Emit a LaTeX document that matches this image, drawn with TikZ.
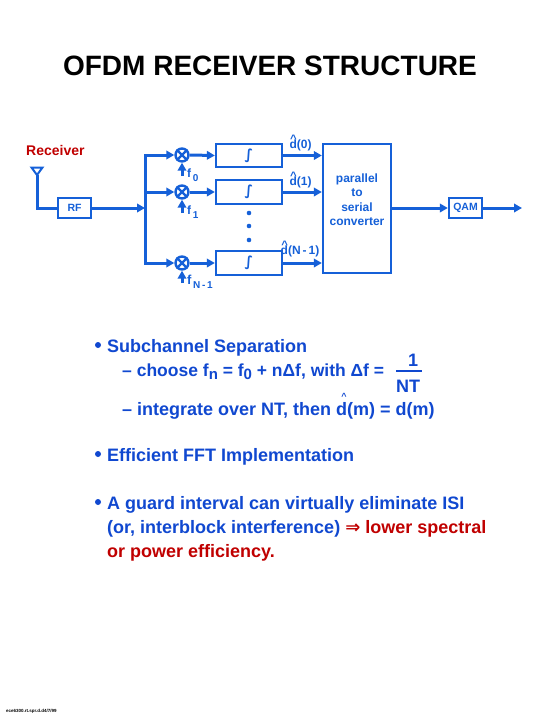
\documentclass[tikz,border=0pt]{standalone}
\usepackage{fontspec}
\setmainfont{Liberation Sans}
\newfontfamily\djv{DejaVu Sans}
\usetikzlibrary{arrows.meta,calc}
\definecolor{diag}{HTML}{1560D8}
\definecolor{body}{HTML}{1048D0}
\definecolor{redt}{HTML}{C00000}
\newcommand{\dhat}{\rlap{\raisebox{0.46em}{\hspace{0.06em}\scalebox{0.95}[0.9]{\textasciicircum}}}d}
\newcommand{\sz}[1]{\fontsize{#1}{#1}\selectfont}
\tikzset{
  x=1pt,y=-1pt,
  wire/.style={draw=diag,line width=3pt},
  flow/.style={wire,-{Triangle[length=8pt,width=8.5pt]}},
  blk/.style={draw=diag,line width=2.3pt,fill=white,inner sep=0pt,text=diag,align=center},
  mix/.style={draw=diag,circle,line width=2.4pt,fill=white,minimum size=13pt,inner sep=0pt},
  dlab/.style={text=diag,font=\sz{12}\bfseries,anchor=base,inner sep=0pt},
  flab/.style={text=diag,font=\sz{12}\bfseries,anchor=base west,inner sep=0pt},
  bodyt/.style={text=body,font=\sz{18}\bfseries,anchor=base west,inner sep=0pt},
  redtxt/.style={text=redt,font=\sz{18}\bfseries,anchor=base west,inner sep=0pt},
}
\newcommand{\mixcross}[1]{\draw[diag,line width=2.2pt] (#1.north west)--(#1.south east) (#1.north east)--(#1.south west);}
\begin{document}
\begin{tikzpicture}
\useasboundingbox (0,0) rectangle (540,720);
\node[anchor=base,inner sep=0pt,font=\sz{28}\bfseries] (title) at (270,75) {OFDM RECEIVER STRUCTURE};
\node[anchor=base west,inner sep=0pt,text=redt,font=\sz{14}\bfseries] (recv) at (26,155.5) {Receiver};
% blocks
\node[blk,minimum width=33pt,minimum height=20pt,font=\sz{10.5}\bfseries] (rf) at (74.5,208) {RF};
\node[blk,minimum width=33pt,minimum height=20pt,font=\sz{10.5}\bfseries] (qam) at (465.5,208) {QAM};
\node[blk,minimum width=66pt,minimum height=23.5pt,font=\djv\sz{14}\bfseries] (i0) at (249,155.5) {∫};
\node[blk,minimum width=66pt,minimum height=24.5pt,font=\djv\sz{14}\bfseries] (i1) at (249,192) {∫};
\node[blk,minimum width=66pt,minimum height=24pt,font=\djv\sz{14}\bfseries] (i2) at (249,263) {∫};
\node[blk,minimum width=68pt,minimum height=129pt] (ps) at (357,208.5) {};
\node[text=diag,align=center,inner sep=0pt,font=\sz{12}\bfseries] (pstxt) at (357,199.5) {parallel\\[2.6pt]to\\[2.6pt]serial\\[2pt]converter};
% mixers
\node[mix] (m0) at (182,155) {};
\node[mix] (m1) at (182,192) {};
\node[mix] (m2) at (182,263) {};
\foreach \m in {m0,m1,m2}{\mixcross{\m}}
% antenna
\coordinate (ant) at (37,175);
\coordinate (antcorner) at (37,208);
\draw[diag,line width=2pt,line join=miter] (31.5,167.5)--(42.5,167.5)--(37,175)--cycle;
\draw[wire] (ant)--(antcorner)--(rf.west);
% splitter
\coordinate (j) at (145,208);
\coordinate (j0) at (145,155);
\coordinate (j1) at (145,192);
\coordinate (j2) at (145,263);
\draw[flow] (rf.east)--(j);
\draw[wire,line cap=rect] (j0)--(j2);
\draw[flow] (j0)--(m0.west);
\draw[flow] (j1)--(m1.west);
\draw[flow] (j2)--(m2.west);
\draw[flow] (m0.east)--(i0.west);
\draw[flow] (m1.east)--(i1.west);
\draw[flow] (m2.east)--(i2.west);
\draw[flow] (i0.east)--(i0.east-|ps.west);
\draw[flow] (i1.east)--(i1.east-|ps.west);
\draw[flow] (i2.east)--(i2.east-|ps.west);
\draw[flow] (ps.east|-qam.west)--(qam.west);
\coordinate (out) at (522,208);
\draw[flow] (qam.east)--(out);
% LO
\coordinate (f0) at (182,176);
\coordinate (f1) at (182,213);
\coordinate (f2) at (182,283);
\draw[flow] (f0)--(m0.south);
\draw[flow] (f1)--(m1.south);
\draw[flow] (f2)--(m2.south);
\node[flab,font=\sz{12}\bfseries] (lf0) at (187,177) {f\raisebox{-4pt}{\sz{10}\,0}};
\node[flab,font=\sz{12}\bfseries] (lf1) at (187,214) {f\raisebox{-4pt}{\sz{10}\,1}};
\node[flab,font=\sz{13}\bfseries] (lf2) at (187,284) {f\raisebox{-4pt}{\sz{10}\,N\,-\,1}};
% dots
\foreach \yy/\n in {213/a,226/b,240/c}{\fill[diag] (249,\yy) circle (2.3pt);}
% estimates
\node[dlab] (d0) at (300.5,148) {\dhat(0)};
\node[dlab] (d1) at (300.5,185) {\dhat(1)};
\node[dlab] (d2) at (300,254) {\dhat(N\,-\,1)};
% bullets
\fill[body] (98,345) circle (3pt);
\node[bodyt] (s1) at (107,352) {Subchannel Separation};
\node[bodyt,font=\sz{17.5}\bfseries] (s2) at (122,376) {– choose f\raisebox{-3pt}{\sz{15}n} = f\raisebox{-3pt}{\sz{15}0} + nΔf, with Δf =};
\node[bodyt,anchor=base] (one) at (413,366.5) {1};
\node[bodyt,anchor=base] (nt) at (408,392.5) {NT};
\draw[body,line width=1.8pt] (396,371)--(422,371);
\node[anchor=base,inner sep=0pt,text=body,font=\sz{9}\bfseries] (hat) at (344,399.5) {\textasciicircum};
\node[bodyt] (s3) at (122,415) {– integrate over NT, then d(m) = d(m)};
\fill[body] (98,454) circle (3pt);
\node[bodyt] (s4) at (107,461) {Efficient FFT Implementation};
\fill[body] (98,502) circle (3pt);
\node[bodyt] (s5) at (107,509) {A guard interval can virtually eliminate ISI};
\node[bodyt] (s6) at (107,533) {(or, interblock interference) \textcolor{redt}{{\djv\bfseries ⇒} lower spectral}};
\node[redtxt] (s7) at (107,557) {or power efficiency.};
\node[anchor=base west,inner sep=0pt,font=\sz{4.5}\bfseries] (foot) at (6,712) {ece6300.rt.spr.d.d4/7/99};
\end{tikzpicture}
\end{document}
